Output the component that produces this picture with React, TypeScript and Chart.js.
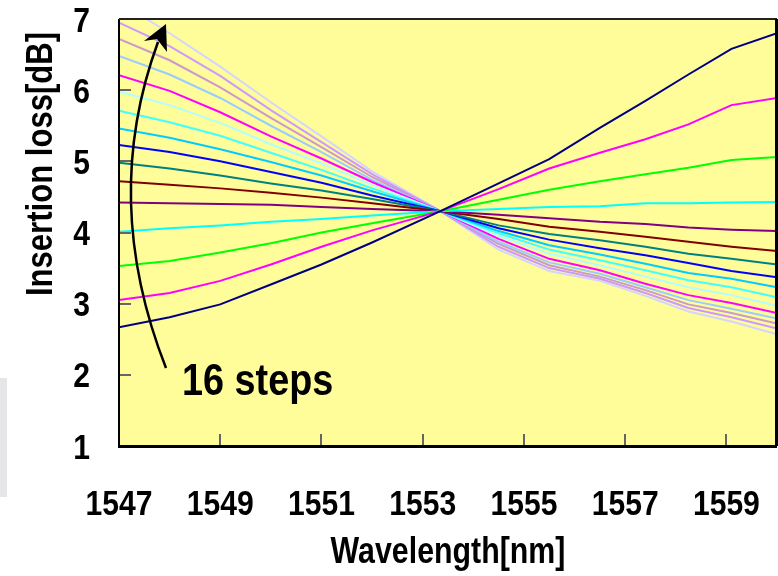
import { useEffect, useRef } from "react";
import { Chart, registerables } from "chart.js";

Chart.register(...registerables);

// Wavelength sample points (nm)
const wavelengths = [1547, 1548, 1549, 1550, 1551, 1552, 1553.35, 1554.5, 1555.5, 1556.5, 1557.4, 1558.25, 1559.1, 1560];

// 16 steps, insertion loss (dB)
const step01 = [2.67, 2.81, 2.99, 3.27, 3.55, 3.86, 4.30, 4.69, 5.03, 5.47, 5.85, 6.22, 6.58, 6.80];
const step02 = [3.05, 3.15, 3.32, 3.55, 3.80, 4.03, 4.30, 4.61, 4.90, 5.12, 5.31, 5.52, 5.79, 5.89];
const step03 = [3.53, 3.60, 3.72, 3.85, 4.00, 4.13, 4.30, 4.46, 4.60, 4.72, 4.82, 4.91, 5.02, 5.06];
const step04 = [4.01, 4.06, 4.10, 4.15, 4.19, 4.24, 4.30, 4.33, 4.36, 4.37, 4.41, 4.41, 4.42, 4.43];
const step05 = [4.42, 4.41, 4.40, 4.39, 4.36, 4.33, 4.30, 4.25, 4.20, 4.15, 4.12, 4.07, 4.04, 4.02];
const step06 = [4.72, 4.67, 4.62, 4.56, 4.49, 4.41, 4.30, 4.19, 4.08, 4.01, 3.94, 3.87, 3.80, 3.74];
const step07 = [4.98, 4.90, 4.80, 4.69, 4.59, 4.47, 4.30, 4.10, 3.98, 3.89, 3.80, 3.70, 3.63, 3.55];
const step08 = [5.23, 5.13, 5.00, 4.85, 4.70, 4.52, 4.30, 4.06, 3.90, 3.78, 3.68, 3.57, 3.46, 3.37];
const step09 = [5.46, 5.33, 5.17, 4.99, 4.80, 4.58, 4.30, 4.02, 3.82, 3.69, 3.56, 3.43, 3.35, 3.23];
const step10 = [5.71, 5.55, 5.36, 5.12, 4.88, 4.62, 4.30, 3.99, 3.76, 3.61, 3.47, 3.33, 3.23, 3.09];
const step11 = [5.98, 5.79, 5.54, 5.24, 4.97, 4.67, 4.30, 3.95, 3.70, 3.54, 3.38, 3.23, 3.12, 2.97];
const step12 = [6.21, 5.99, 5.69, 5.35, 5.04, 4.71, 4.30, 3.91, 3.63, 3.47, 3.28, 3.12, 3.01, 2.87];
const step13 = [6.48, 6.22, 5.89, 5.50, 5.13, 4.74, 4.30, 3.87, 3.58, 3.42, 3.23, 3.05, 2.93, 2.79];
const step14 = [6.72, 6.42, 6.04, 5.61, 5.20, 4.78, 4.30, 3.84, 3.54, 3.38, 3.19, 2.99, 2.87, 2.72];
const step15 = [6.95, 6.62, 6.20, 5.72, 5.27, 4.82, 4.30, 3.80, 3.50, 3.35, 3.15, 2.94, 2.81, 2.65];
const step16 = [7.24, 6.80, 6.33, 5.83, 5.35, 4.86, 4.30, 3.76, 3.46, 3.32, 3.11, 2.89, 2.75, 2.57];

const seriesValues = [step01, step02, step03, step04, step05, step06, step07, step08, step09, step10, step11, step12, step13, step14, step15, step16];
const seriesColors = [
  "#000080", "#ff00ff", "#00ff00", "#00ffff", "#800080", "#800000", "#008080", "#0000ff",
  "#00ccff", "#40ffff", "#b0ffff", "#ff00ff", "#99ccff", "#cc99cc", "#cc99ff", "#d4d4ff",
];

const xTicks = [1547, 1549, 1551, 1553, 1555, 1557, 1559];
const yTicks = [1, 2, 3, 4, 5, 6, 7];

const xTitle = "Wavelength[nm]";
const yTitle = "Insertion loss[dB]";
const noteText = "16 steps";

const FONT = "'Liberation Sans', Arial, sans-serif";

function drawNarrow(ctx: any, text: string, x: number, y: number, size: number, align: string, baseline: string, narrow: number, rot = 0) {
  ctx.save();
  ctx.translate(x, y);
  if (rot) ctx.rotate(rot);
  ctx.scale(narrow, 1);
  ctx.font = `bold ${size}px ${FONT}`;
  ctx.fillStyle = "#000";
  ctx.textAlign = align;
  ctx.textBaseline = baseline;
  ctx.fillText(text, 0, 0);
  ctx.restore();
}

const decorPlugin = {
  id: "decor",
  beforeDraw(chart: any) {
    const { ctx, chartArea } = chart;
    ctx.save();
    ctx.fillStyle = "#ffffff";
    ctx.fillRect(0, 0, chart.width, chart.height);
    ctx.fillStyle = "#fffc9a";
    ctx.fillRect(chartArea.left, chartArea.top, chartArea.right - chartArea.left, chartArea.bottom - chartArea.top);
    ctx.fillStyle = "#e6e6e8";
    ctx.fillRect(0, 378, 7, 119);
    ctx.restore();
  },
  afterDatasetsDraw(chart: any) {
    const { ctx, chartArea, scales } = chart;
    const { left, right, top, bottom } = chartArea;
    ctx.save();
    // inner tick marks
    ctx.strokeStyle = "#666";
    ctx.lineWidth = 2;
    yTicks.forEach((v) => {
      if (v === 1 || v === 7) return;
      const y = Math.round(scales.y.getPixelForValue(v));
      ctx.beginPath();
      ctx.moveTo(left, y);
      ctx.lineTo(left + 12, y);
      ctx.stroke();
    });
    xTicks.forEach((v) => {
      if (v === 1547) return;
      const x = Math.round(scales.x.getPixelForValue(v));
      ctx.beginPath();
      ctx.moveTo(x, bottom);
      ctx.lineTo(x, bottom - 12);
      ctx.stroke();
    });
    // frame
    ctx.strokeStyle = "#000";
    ctx.lineWidth = 2;
    ctx.beginPath();
    ctx.moveTo(left, top);
    ctx.lineTo(left, bottom);
    ctx.stroke();
    ctx.strokeStyle = "#222";
    ctx.beginPath();
    ctx.moveTo(left, top);
    ctx.lineTo(right, top);
    ctx.stroke();
    ctx.strokeStyle = "#000";
    ctx.lineWidth = 3;
    ctx.beginPath();
    ctx.moveTo(left - 1, bottom + 0.5);
    ctx.lineTo(right, bottom + 0.5);
    ctx.stroke();
    ctx.beginPath();
    ctx.moveTo(right - 0.5, top);
    ctx.lineTo(right - 0.5, bottom);
    ctx.stroke();

    // annotation arrow
    ctx.strokeStyle = "#000";
    ctx.lineWidth = 2.5;
    ctx.beginPath();
    ctx.moveTo(166, 368);
    ctx.quadraticCurveTo(100, 200, 158, 42);
    ctx.stroke();
    ctx.fillStyle = "#000";
    ctx.beginPath();
    ctx.moveTo(166, 24);
    ctx.lineTo(144, 41);
    ctx.lineTo(157, 39);
    ctx.lineTo(167, 52);
    ctx.closePath();
    ctx.fill();
    ctx.restore();

    // note text
    drawNarrow(ctx, noteText, 182, 395, 45, "left", "alphabetic", 0.84);

    // tick labels
    xTicks.forEach((v) => {
      drawNarrow(ctx, String(v), scales.x.getPixelForValue(v), 515, 35, "center", "alphabetic", 0.86);
    });
    yTicks.forEach((v) => {
      drawNarrow(ctx, String(v), 90, scales.y.getPixelForValue(v) + 12.5, 35, "right", "alphabetic", 0.86);
    });

    // axis titles
    drawNarrow(ctx, xTitle, (left + right) / 2, 563, 37, "center", "alphabetic", 0.82);
    drawNarrow(ctx, yTitle, 52, 164, 37, "center", "alphabetic", 0.84, -Math.PI / 2);
  },
};

export default function App() {
  const ref = useRef<HTMLCanvasElement | null>(null);
  useEffect(() => {
    if (!ref.current) return;
    const datasets = seriesValues.map((vals, i) => ({
      label: `step ${i + 1}`,
      data: wavelengths.map((w, j) => ({ x: w, y: vals[j] })),
      borderColor: seriesColors[i],
      backgroundColor: seriesColors[i],
      borderWidth: 2,
      pointRadius: 0,
      tension: 0,
      fill: false,
    }));
    const chart = new Chart(ref.current, {
      type: "line",
      data: { datasets },
      options: {
        animation: false,
        responsive: false,
        devicePixelRatio: 1,
        layout: { padding: { top: 19, right: 1, left: 0, bottom: 0 } },
        plugins: { legend: { display: false }, tooltip: { enabled: false }, title: { display: false } },
        scales: {
          x: {
            type: "linear",
            min: 1547,
            max: 1560,
            afterBuildTicks: (s: any) => {
              s.ticks = xTicks.map((v) => ({ value: v }));
            },
            afterFit: (s: any) => {
              s.height = 130;
            },
            grid: { display: false, drawTicks: false },
            border: { display: false },
            ticks: { display: false },
          },
          y: {
            type: "linear",
            min: 1,
            max: 7,
            afterBuildTicks: (s: any) => {
              s.ticks = yTicks.map((v) => ({ value: v }));
            },
            afterFit: (s: any) => {
              s.width = 119;
            },
            grid: { display: false, drawTicks: false },
            border: { display: false },
            ticks: { display: false },
          },
        },
      },
      plugins: [decorPlugin],
    } as any);
    return () => chart.destroy();
  }, []);
  return (
    <div style={{ position: "fixed", left: 0, top: 0, width: 778, height: 576, background: "#fff" }}>
      <canvas ref={ref} width={778} height={576} style={{ width: 778, height: 576, display: "block" }} />
    </div>
  );
}
